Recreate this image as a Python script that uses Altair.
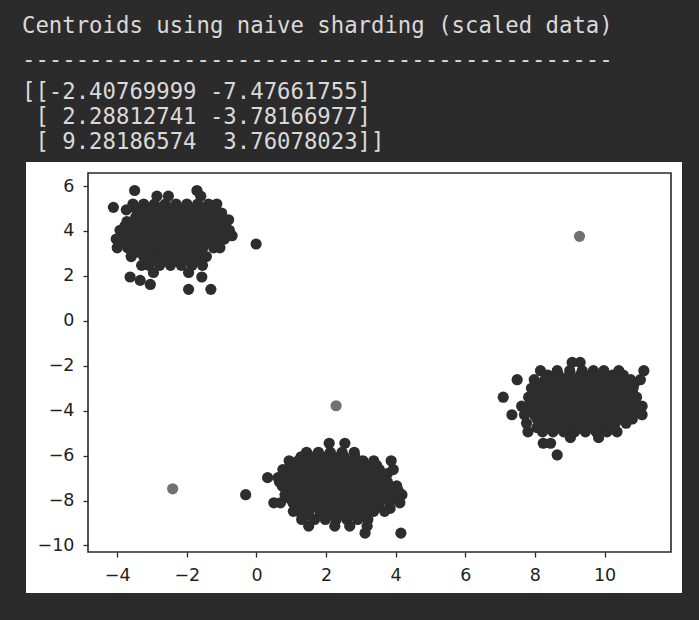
import altair as alt
import pandas as pd

# ---- printed text above the plot ----
title_lines = ["Centroids using naive sharding (scaled data)", "-" * 44]
array_lines = [
    "[[-2.40769999 -7.47661755]",
    " [ 2.28812741 -3.78166977]",
    " [ 9.28186574  3.76078023]]",
]

# ---- centroids (from the printed array) ----
cent_x = [-2.40769999, 2.28812741, 9.28186574]
cent_y = [-7.47661755, -3.78166977, 3.76078023]

# ---- cluster 1 (top left): row y, x values ----
c1_y = [5.80, 5.55, 5.20, 5.05, 5.00, 4.94, 4.80, 4.61, 4.50, 4.42, 4.22, 4.03,
        3.84, 3.79, 3.64, 3.45, 3.42, 3.25, 3.05, 2.86, 2.66, 2.47, 2.15, 1.95,
        1.80, 1.62, 1.40]
c1_x = [
    [-3.50, -1.71],
    [-2.86, -2.53, -1.60],
    [-3.55, -3.24, -2.93, -2.62, -2.31, -2.00, -1.69, -1.38, -1.14],
    [-4.11],
    [-3.47, -3.16, -2.85, -2.54, -2.23, -1.92, -1.61, -1.30],
    [-3.74],
    [-3.40, -3.09, -2.78, -2.47, -2.16, -1.85, -1.54, -1.23, -1.00],
    [-3.47, -3.16, -2.85, -2.54, -2.23, -1.92, -1.61, -1.30, -0.99],
    [-0.80],
    [-3.72, -3.55, -3.24, -2.93, -2.62, -2.31, -2.00, -1.69, -1.38, -1.07, -0.86],
    [-3.78, -3.47, -3.16, -2.85, -2.54, -2.23, -1.92, -1.61, -1.30, -0.99],
    [-3.92, -3.70, -3.40, -3.09, -2.78, -2.47, -2.16, -1.85, -1.54, -1.23, -0.95, -0.78],
    [-3.78, -3.47, -3.16, -2.85, -2.54, -2.23, -1.92, -1.61, -1.30, -0.99],
    [-0.70],
    [-4.03, -3.86, -3.55, -3.24, -2.93, -2.62, -2.31, -2.00, -1.69, -1.38, -1.07, -0.92],
    [-3.78, -3.47, -3.16, -2.85, -2.54, -2.23, -1.92, -1.61, -1.30],
    [-0.01],
    [-4.00, -3.70, -3.40, -3.09, -2.78, -2.47, -2.16, -1.85, -1.54, -1.23, -1.05],
    [-3.47, -3.16, -2.85, -2.54, -2.23, -1.92, -1.61],
    [-3.60, -3.24, -2.93, -2.62, -2.31, -2.00, -1.69, -1.44],
    [-3.16, -2.85, -2.54, -2.23, -1.92, -1.61],
    [-3.30, -3.09, -2.78, -2.47, -2.16, -1.85, -1.55],
    [-2.96, -1.95],
    [-3.63, -1.57],
    [-3.34],
    [-3.05],
    [-1.95, -1.31],
]

# ---- cluster 2 (bottom middle) ----
c2_y = [-5.45, -5.85, -6.05, -6.23, -6.43, -6.62, -6.80, -6.98, -7.16, -7.35,
        -7.55, -7.74, -7.92, -8.10, -8.29, -8.35, -8.48, -8.66, -8.84, -9.14,
        -9.45]
c2_x = [
    [2.09, 2.54],
    [1.44, 1.78, 2.12, 2.46, 2.81],
    [1.28, 1.59, 1.90, 2.21, 2.52, 2.83],
    [0.94, 1.20, 1.51, 1.82, 2.13, 2.44, 2.75, 3.06, 3.37, 3.87],
    [0.97, 1.28, 1.59, 1.90, 2.21, 2.52, 2.83, 3.14, 3.45],
    [0.76, 1.05, 1.36, 1.67, 1.98, 2.29, 2.60, 2.91, 3.22, 3.53, 3.93],
    [0.97, 1.28, 1.59, 1.90, 2.21, 2.52, 2.83, 3.14, 3.45, 3.76],
    [0.32, 0.62, 0.90, 1.20, 1.51, 1.82, 2.13, 2.44, 2.75, 3.06, 3.37, 3.66],
    [0.66, 0.97, 1.28, 1.59, 1.90, 2.21, 2.52, 2.83, 3.14, 3.45, 3.76],
    [0.74, 1.05, 1.36, 1.67, 1.98, 2.29, 2.60, 2.91, 3.22, 3.53, 3.82, 4.03],
    [0.97, 1.28, 1.59, 1.90, 2.21, 2.52, 2.83, 3.14, 3.45, 3.76, 4.07],
    [-0.31, 0.82, 1.20, 1.51, 1.82, 2.13, 2.44, 2.75, 3.06, 3.37, 3.68, 3.96, 4.18],
    [0.97, 1.28, 1.59, 1.90, 2.21, 2.52, 2.83, 3.14, 3.45, 3.76, 4.07],
    [0.50, 0.69, 1.05, 1.36, 1.67, 1.98, 2.29, 2.60, 2.91, 3.22, 3.53, 3.82, 4.12],
    [1.28, 1.59, 1.90, 2.21, 2.52, 2.83, 3.14, 3.45],
    [3.84],
    [1.06, 1.20, 1.51, 1.82, 2.13, 2.44, 2.75, 3.06, 3.37, 3.68],
    [1.45, 1.90, 2.21, 2.52, 2.83, 3.14],
    [1.30, 1.67, 1.98, 2.29, 2.60, 2.91, 3.20],
    [1.50, 2.25, 2.68, 3.18],
    [3.12, 4.15],
]

# ---- cluster 3 (right) ----
c3_y = [-1.85, -2.22, -2.42, -2.62, -2.81, -3.00, -3.20, -3.40, -3.60, -3.80,
        -3.99, -4.18, -4.37, -4.56, -4.75, -4.94, -5.20, -5.45, -5.97]
c3_x = [
    [9.07, 9.30],
    [8.16, 8.64, 9.00, 9.36, 9.68, 9.98, 10.41, 11.13],
    [8.37, 8.68, 8.99, 9.30, 9.61, 9.92, 10.23, 10.54],
    [7.49, 7.98, 8.29, 8.60, 8.91, 9.22, 9.53, 9.84, 10.15, 10.46, 10.75, 11.03],
    [8.06, 8.37, 8.68, 8.99, 9.30, 9.61, 9.92, 10.23, 10.54, 10.85],
    [7.90, 8.14, 8.45, 8.76, 9.07, 9.38, 9.69, 10.00, 10.31, 10.62, 10.82],
    [8.06, 8.37, 8.68, 8.99, 9.30, 9.61, 9.92, 10.23, 10.54, 10.80],
    [7.09, 7.82, 7.98, 8.29, 8.60, 8.91, 9.22, 9.53, 9.84, 10.15, 10.46, 10.70, 10.92],
    [7.90, 8.06, 8.37, 8.68, 8.99, 9.30, 9.61, 9.92, 10.23, 10.54, 10.85],
    [7.62, 7.83, 8.14, 8.45, 8.76, 9.07, 9.38, 9.69, 10.00, 10.31, 10.62, 10.88, 11.08],
    [7.90, 8.06, 8.37, 8.68, 8.99, 9.30, 9.61, 9.92, 10.23, 10.54, 10.85],
    [7.34, 7.70, 7.98, 8.29, 8.60, 8.91, 9.22, 9.53, 9.84, 10.15, 10.46, 10.77, 11.08],
    [8.06, 8.37, 8.68, 8.99, 9.30, 9.61, 9.92, 10.23, 10.54, 10.80],
    [7.76, 8.14, 8.45, 8.76, 9.07, 9.38, 9.69, 10.00, 10.31, 10.62],
    [8.06, 8.37, 8.68, 8.99, 9.30, 9.61, 9.92, 10.23],
    [7.80, 8.22, 8.52, 8.83, 9.14, 9.45, 9.76, 10.07, 10.36],
    [9.02, 9.83],
    [8.24, 8.45],
    [8.64],
]

x_ticks = [-4, -2, 0, 2, 4, 6, 8, 10]
y_ticks = [-10, -8, -6, -4, -2, 0, 2, 4, 6]
x_domain = [-4.84, 11.91]
y_domain = [-10.29, 6.58]

rows = []
for ys, xs in ((c1_y, c1_x), (c2_y, c2_x), (c3_y, c3_x)):
    for yv, xrow in zip(ys, xs):
        for xv in xrow:
            rows.append({"x": xv, "y": yv})
points_df = pd.DataFrame(rows)
cent_df = pd.DataFrame({"x": cent_x, "y": cent_y})

PLOT_W, PLOT_H = 583, 379
nbsp = "\u00a0"
zwsp = "\u200b"
sub_lines = [zwsp + s.replace(" ", nbsp) for s in array_lines]

axis_common = dict(
    title=None, labelOverlap=False, zindex=1, domain=False, grid=False,
    ticks=True, tickSize=5, tickWidth=1.3, tickColor="#2a2a2a",
    labelFont="DejaVu Sans", labelFontSize=17.5, labelColor="#1f1f1f",
    labelPadding=9,
)
x_enc = alt.X("x:Q", scale=alt.Scale(domain=x_domain, nice=False, zero=False),
              axis=alt.Axis(values=x_ticks, **axis_common))
y_enc = alt.Y("y:Q", scale=alt.Scale(domain=y_domain, nice=False, zero=False),
              axis=alt.Axis(values=y_ticks, **axis_common))

one = alt.Data(values=[{}])

panel = alt.Chart(one).mark_rect(color="#ffffff").encode(
    x=alt.value(-62), x2=alt.value(594), y=alt.value(-11), y2=alt.value(420)
)

pts = alt.Chart(points_df).mark_circle(size=125, opacity=1, color="#2d2d2d").encode(
    x=x_enc, y=y_enc
)

cents = alt.Chart(cent_df).mark_circle(size=125, opacity=1, color="#717171").encode(
    x="x:Q", y="y:Q"
)

frame = alt.Chart(one).mark_rect(filled=False, stroke="#2a2a2a", strokeWidth=1.6).encode(
    x=alt.value(0), x2=alt.value("width"), y=alt.value(0), y2=alt.value("height")
)

chart = alt.layer(panel, pts, cents, frame).properties(
    width=PLOT_W,
    height=PLOT_H,
    autosize=alt.AutoSizeParams(type="none"),
    padding={"left": 88, "top": 173, "right": 28, "bottom": 68},
    title=alt.TitleParams(
        text=title_lines,
        subtitle=sub_lines,
        anchor="start",
        frame="group",
        dx=-66,
        offset=9,
        font="DejaVu Sans Mono",
        fontSize=22.3,
        fontWeight="normal",
        color="#d9d9d9",
        lineHeight=34,
        subtitleFont="DejaVu Sans Mono",
        subtitleFontSize=22.3,
        subtitleColor="#d9d9d9",
        subtitleLineHeight=24.7,
        subtitlePadding=10,
    ),
).configure(
    background="#2b2b2b"
).configure_view(
    strokeWidth=0
).configure_axis(
    zindex=1,
)

chart.save("out.html", embed_options={"renderer": "svg", "actions": False})
